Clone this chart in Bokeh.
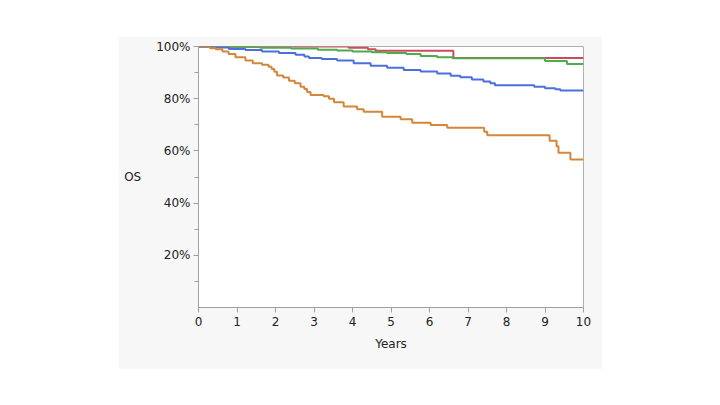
from bokeh.plotting import figure
from bokeh.models import Range1d, FixedTicker, PrintfTickFormatter
from bokeh.embed import file_html
from bokeh.resources import INLINE

# Kaplan-Meier style step data (years, OS %)
red_t = [0, 3.9, 4.4, 4.6, 6.62, 10]
red_v = [100, 99.5, 98.9, 98.4, 95.6, 95.6]

green_t = [0, 0.8, 1.6, 2.4, 3.1, 3.6, 4.0, 4.5, 4.9, 5.4, 5.77, 6.2, 6.6, 9.0, 9.57, 10]
green_v = [100, 99.8, 99.5, 99.2, 98.8, 98.5, 98.1, 97.8, 97.5, 97.1, 96.4, 95.9, 95.5, 94.4, 93.3, 93.3]

blue_t = [0, 0.35, 0.79, 1.22, 1.65, 2.09, 2.52, 2.75, 2.87, 3.2, 3.6, 4.03, 4.47, 4.9,
          5.33, 5.77, 6.2, 6.55, 6.8, 7.1, 7.4, 7.58, 7.7, 8.72, 9.0, 9.27, 9.4, 10]
blue_v = [100, 99.6, 99.0, 98.7, 98.1, 97.5, 96.8, 96.2, 95.6, 95.2, 94.6, 93.6, 92.6, 91.9,
          91.0, 90.4, 89.7, 88.8, 88.2, 87.4, 86.6, 85.9, 85.2, 84.6, 84.0, 83.6, 83.1, 83.1]

orange_t = [0, 0.3, 0.45, 0.62, 0.78, 0.96, 1.22, 1.41, 1.65, 1.82, 1.9, 1.97, 2.04, 2.2,
            2.35, 2.5, 2.65, 2.75, 2.82, 2.91, 3.25, 3.39, 3.52, 3.77, 4.12, 4.29, 4.77,
            5.25, 5.55, 6.03, 6.46, 7.42, 7.5, 9.12, 9.3, 9.35, 9.66, 10]
orange_v = [100, 99.3, 98.9, 98.1, 97.1, 95.9, 94.6, 93.6, 93.0, 92.2, 91.4, 90.3, 88.9, 88.1,
            86.9, 85.9, 84.6, 83.7, 82.6, 81.4, 80.9, 80.0, 78.6, 77.0, 76.0, 75.0, 73.1,
            72.1, 70.8, 69.9, 68.9, 67.3, 66.0, 63.9, 61.8, 59.3, 56.7, 56.7]

x_ticks = [0, 1, 2, 3, 4, 5, 6, 7, 8, 9, 10]
y_ticks = [20, 40, 60, 80, 100]
y_minor = [10, 30, 50, 70, 90]

FONT = "DejaVu Sans"
AX = "#a0a0a0"

p = figure(width=484, height=333, output_backend="svg", toolbar_location=None,
           x_range=Range1d(0, 10), y_range=Range1d(0, 100),
           min_border_left=80, min_border_right=19, min_border_top=10, min_border_bottom=62,
           margin=(36, 0, 0, 118))
p.border_fill_color = "#f7f7f7"
p.background_fill_color = "white"
p.outline_line_color = "#b0b0b0"
p.grid.visible = False

p.step(red_t, red_v, mode="after", line_color="#cc4b5e", line_width=2)
p.step(green_t, green_v, mode="after", line_color="#4faa4a", line_width=2)
p.step(blue_t, blue_v, mode="after", line_color="#4a70e0", line_width=2)
p.step(orange_t, orange_v, mode="after", line_color="#d4873a", line_width=2)

for ax in (p.xaxis[0], p.yaxis[0]):
    ax.axis_line_color = AX
    ax.major_tick_line_color = AX
    ax.minor_tick_line_color = AX
    ax.major_tick_in = 0
    ax.major_tick_out = 5
    ax.minor_tick_in = 0
    ax.minor_tick_out = 4
    ax.major_label_text_font = FONT
    ax.major_label_text_font_size = "12px"
    ax.major_label_text_color = "#222222"
    ax.axis_label_text_font = FONT
    ax.axis_label_text_font_size = "12px"
    ax.axis_label_text_font_style = "normal"
    ax.axis_label_text_color = "#222222"

p.xaxis.ticker = FixedTicker(ticks=x_ticks, minor_ticks=[])
p.yaxis.ticker = FixedTicker(ticks=y_ticks, minor_ticks=y_minor)
p.yaxis.formatter = PrintfTickFormatter(format="%d%%")
p.xaxis.axis_label = "Years"
p.yaxis.axis_label = "OS"
p.yaxis.axis_label_orientation = "horizontal"
p.yaxis.major_label_standoff = 3
p.xaxis.major_label_standoff = 4
p.yaxis.axis_label_standoff = 12
p.xaxis.axis_label_standoff = 8

open("out.html", "w").write(file_html(p, INLINE))
